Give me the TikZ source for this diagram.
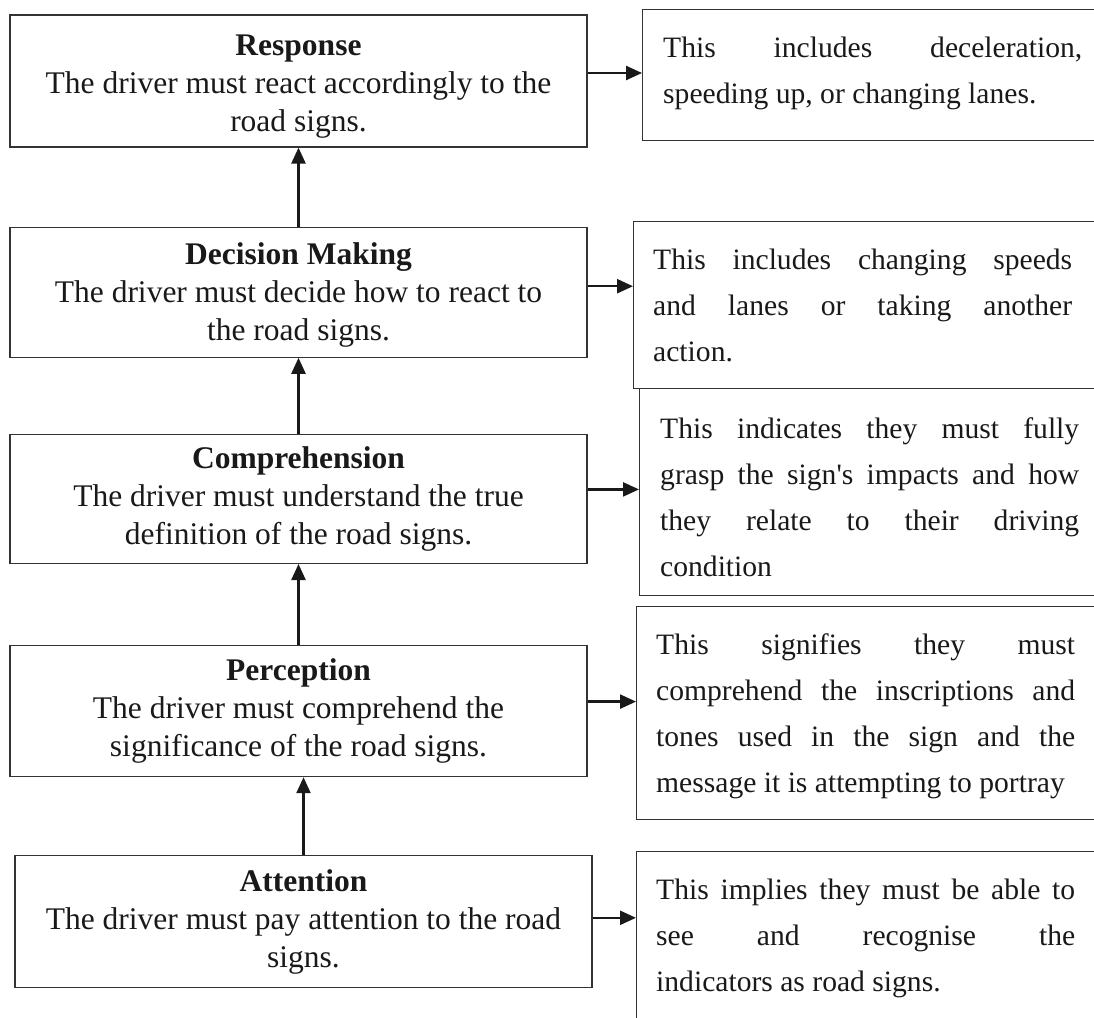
\documentclass[tikz,border=0pt]{standalone}
\usepackage{fontspec}
\setmainfont{Liberation Serif}
\usetikzlibrary{arrows.meta,positioning}
\hyphenpenalty=10000
\tikzset{
  stage/.style={draw=black!80,line width=1.2pt,minimum width=577pt,align=center,
    inner sep=0pt,text=black!90,font=\fontsize{31.5}{38}\selectfont},
  note/.style={draw=black!80,line width=1.2pt,minimum width=480pt,inner sep=0pt,
    anchor=north west},
  notetext/.style={anchor=north west,inner sep=0pt,text width=419pt,align=justify,
    text=black!90,font=\fontsize{29.6}{46}\selectfont},
  flow/.style={draw=black!90,line width=2.4pt,-{Triangle[length=16pt,width=14pt]}}
}
\begin{document}
\begin{tikzpicture}[x=1pt,y=-1pt]
  \useasboundingbox (0,0) rectangle (1094,1017);
  \clip (0,0) rectangle (1094,1017);
  \node[stage,minimum height=132pt] (response) at (298.5,81)
    {\rule{0pt}{31pt}\textbf{Response}\\The driver must react accordingly to the\\road signs.};
  \node[stage,minimum height=130pt,below=79pt of response] (decision)
    {\rule{0pt}{28pt}\textbf{Decision Making}\\The driver must decide how to react to\\the road signs.};
  \node[stage,minimum height=129pt,below=76pt of decision] (comprehension)
    {\textbf{Comprehension}\\The driver must understand the true\\definition of the road signs.};
  \node[stage,minimum height=131pt,below=81pt of comprehension] (perception)
    {\textbf{Perception}\\The driver must comprehend the\\significance of the road signs.};
  \node[stage,minimum height=132pt,below=78pt of perception,xshift=5pt] (attention)
    {\textbf{Attention}\\The driver must pay attention to the road\\signs.};

  \node[note,minimum height=131pt] (resnote) at (642,9) {};
  \node[note,minimum height=167pt] (decnote) at (633,221) {};
  \node[note,minimum height=207pt] (compnote) at (639,388) {};
  \node[note,minimum height=213pt] (percnote) at (636,606) {};
  \node[note,minimum height=200pt] (attnote) at (636,851) {};

  \node[notetext] (resnotetext) at ([xshift=21pt,yshift=-24pt]resnote.north west)
    {\rule{0pt}{24pt}This includes deceleration,\linebreak speeding up, or changing lanes.};
  \node[notetext] (decnotetext) at ([xshift=20pt,yshift=-24pt]decnote.north west)
    {\rule{0pt}{24pt}This includes changing speeds\linebreak and lanes or taking another\linebreak action.};
  \node[notetext] (compnotetext) at ([xshift=21pt,yshift=-26pt]compnote.north west)
    {\rule{0pt}{24pt}This indicates they must fully\linebreak grasp the sign\textquotesingle s impacts and how\linebreak they relate to their driving\linebreak condition};
  \node[notetext] (percnotetext) at ([xshift=20pt,yshift=-24pt]percnote.north west)
    {\rule{0pt}{24pt}This signifies they must\linebreak comprehend the inscriptions and\linebreak tones used in the sign and the\linebreak message it is attempting to portray};
  \node[notetext] (attnotetext) at ([xshift=20pt,yshift=-24pt]attnote.north west)
    {\rule{0pt}{24pt}This implies they must be able to\linebreak see and recognise the\linebreak indicators as road signs.};

  \draw[flow] (decision) -- (response);
  \draw[flow] (comprehension) -- (decision);
  \draw[flow] (perception) -- (comprehension);
  \draw[flow] (attention.north) -- (attention.north |- perception.south);

  \draw[flow] ([yshift=8pt]response.east) -- ([yshift=8pt]response.east -| resnote.west);
  \draw[flow] ([yshift=6pt]decision.east) -- ([yshift=6pt]decision.east -| decnote.west);
  \draw[flow] ([yshift=9.5pt]comprehension.east) -- ([yshift=9.5pt]comprehension.east -| compnote.west);
  \draw[flow] ([yshift=9.5pt]perception.east) -- ([yshift=9.5pt]perception.east -| percnote.west);
  \draw[flow] ([yshift=4pt]attention.east) -- ([yshift=4pt]attention.east -| attnote.west);
\end{tikzpicture}
\end{document}
